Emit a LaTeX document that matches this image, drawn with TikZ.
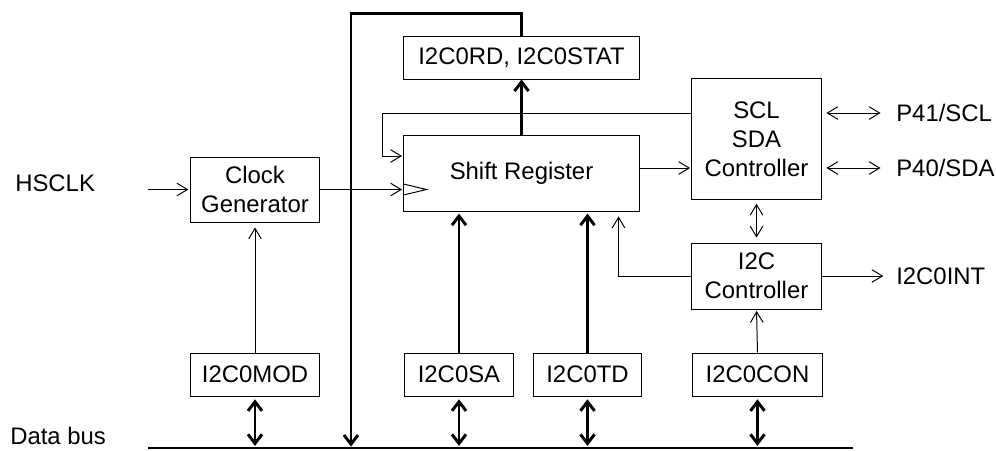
\documentclass[tikz,border=0pt]{standalone}
\usepackage{fontspec}
\setmainfont{Liberation Sans}
\usetikzlibrary{arrows.meta, calc}
\tikzset{
  blk/.style 2 args={
    rectangle, draw=black, line width=0.7pt,
    minimum width=#1, minimum height=#2,
    inner sep=1pt, align=center, text=black,
    font=\fontsize{17}{20.5}\selectfont},
  lbl/.style={inner sep=0pt, anchor=west, text=black, font=\fontsize{17}{20.5}\selectfont},
  arr/.style={-{Straight Barb[length=7.5pt, width=9pt]}, line width=0.7pt},
  dbl/.style={{Straight Barb[length=7.5pt, width=9pt]}-{Straight Barb[length=7.5pt, width=9pt]}, line width=0.7pt},
  tharr/.style={-{Straight Barb[length=6.5pt, width=10pt]}, line width=2.1pt},
  thdbl/.style={{Straight Barb[length=6.5pt, width=10pt]}-{Straight Barb[length=6.5pt, width=10pt]}, line width=2.1pt},
}
\begin{document}
\begin{tikzpicture}[x=0.025cm, y=-0.025cm]
\useasboundingbox (0,0) rectangle (996,450);

% ── Blocks ────────────────────────────────────────────────
\node[blk={5.875cm}{1.075cm}] (rdstat)   at (521.5, 57.5) {I2C0RD, I2C0STAT};
\node[blk={5.875cm}{1.9cm}]   (shiftreg) at (521.5, 173)  {Shift Register};
\node[blk={3.2cm}{1.625cm}]   (clkgen)   at (255, 189.5)  {Clock\\Generator};
\node[blk={3.225cm}{3cm}]     (sclsda)   at (756.5, 139)  {SCL\\SDA\\Controller};
\node[blk={3.225cm}{1.65cm}]  (i2cctrl)  at (756.5, 276)  {I2C\\Controller};

% ── Registers ─────────────────────────────────────────────
\node[blk={3.2cm}{1.075cm}]   (mod) at (255, 374.5)   {I2C0MOD};
\node[blk={2.7cm}{1.075cm}]   (sa)  at (459, 374.5)   {I2C0SA};
\node[blk={2.675cm}{1.075cm}] (td)  at (587.5, 374.5) {I2C0TD};
\node[blk={3.225cm}{1.075cm}] (con) at (757.5, 374.5) {I2C0CON};

% ── Labels ────────────────────────────────────────────────
\node[lbl] (hsclk) at (15, 183)  {HSCLK};
\node[lbl] (p41)   at (896, 113) {P41/SCL};
\node[lbl] (p40)   at (896, 168) {P40/SDA};
\node[lbl] (int)   at (896, 276) {I2C0INT};
\node[lbl, anchor=base west] (bus) at (10, 444) {Data bus};

% ── Data bus ──────────────────────────────────────────────
\coordinate (busL) at (148, 448);
\coordinate (busR) at (853, 448);
\draw[line width=0.8pt] (busL) -- (busR);

% ── Arrows: clock path ────────────────────────────────────
\coordinate (hsin) at (148, 189.5);
\draw[arr, shorten >=1.5pt] (hsin) -- (clkgen.west);
\coordinate (clkin) at (clkgen.east -| shiftreg.west);
\draw[arr, shorten >=1pt] (clkgen.east) -- (clkin);
\draw[line width=0.7pt] (clkin) ++(0,-5.5) -- ++(23,5.5) -- ++(-23,5.5);
\draw[arr, shorten >=3.5pt] (mod.north) -- (clkgen.south);

% ── Arrows: shift register ────────────────────────────────
\draw[tharr] (shiftreg.north) -- (rdstat.south);
\draw[tharr, shorten >=1pt] (rdstat.north) -- ++(0,-22) -| (351,0 |- busL);
\draw[arr, shorten >=1pt] ([yshift=0.65cm]sclsda.west) -| ([xshift=-0.525cm,yshift=0.425cm]shiftreg.west) -- ([yshift=0.425cm]shiftreg.west);
\draw[arr, shorten >=1pt] ([yshift=0.125cm]shiftreg.east) -- ([yshift=0.125cm]shiftreg.east -| sclsda.west);
\draw[tharr, shorten >=1.5pt] (sa.north) -- (sa.north |- shiftreg.south);
\draw[tharr, shorten >=1.5pt] (td.north) -- (td.north |- shiftreg.south);

% ── Arrows: controllers ───────────────────────────────────
\draw[dbl, shorten <=3.5pt, shorten >=11pt] (sclsda.east |- p41.west) -- (p41.west);
\draw[dbl, shorten <=3.5pt, shorten >=11pt] (sclsda.east |- p40.west) -- (p40.west);
\draw[dbl, shorten <=3pt, shorten >=3.5pt] (sclsda.south) -- (i2cctrl.north);
\draw[arr, shorten >=3.5pt] (i2cctrl.west) -| ([xshift=-0.525cm]shiftreg.south east);
\draw[arr, shorten >=9pt] (i2cctrl.east) -- (int.west);
\draw[arr, shorten >=1pt] (con.north) -- (i2cctrl.south);

% ── Arrows: data bus ──────────────────────────────────────
\foreach \reg in {mod, sa, td, con}
  \draw[thdbl, shorten <=2pt, shorten >=1.5pt] (\reg.south) -- (\reg.south |- busL);

\end{tikzpicture}
\end{document}
